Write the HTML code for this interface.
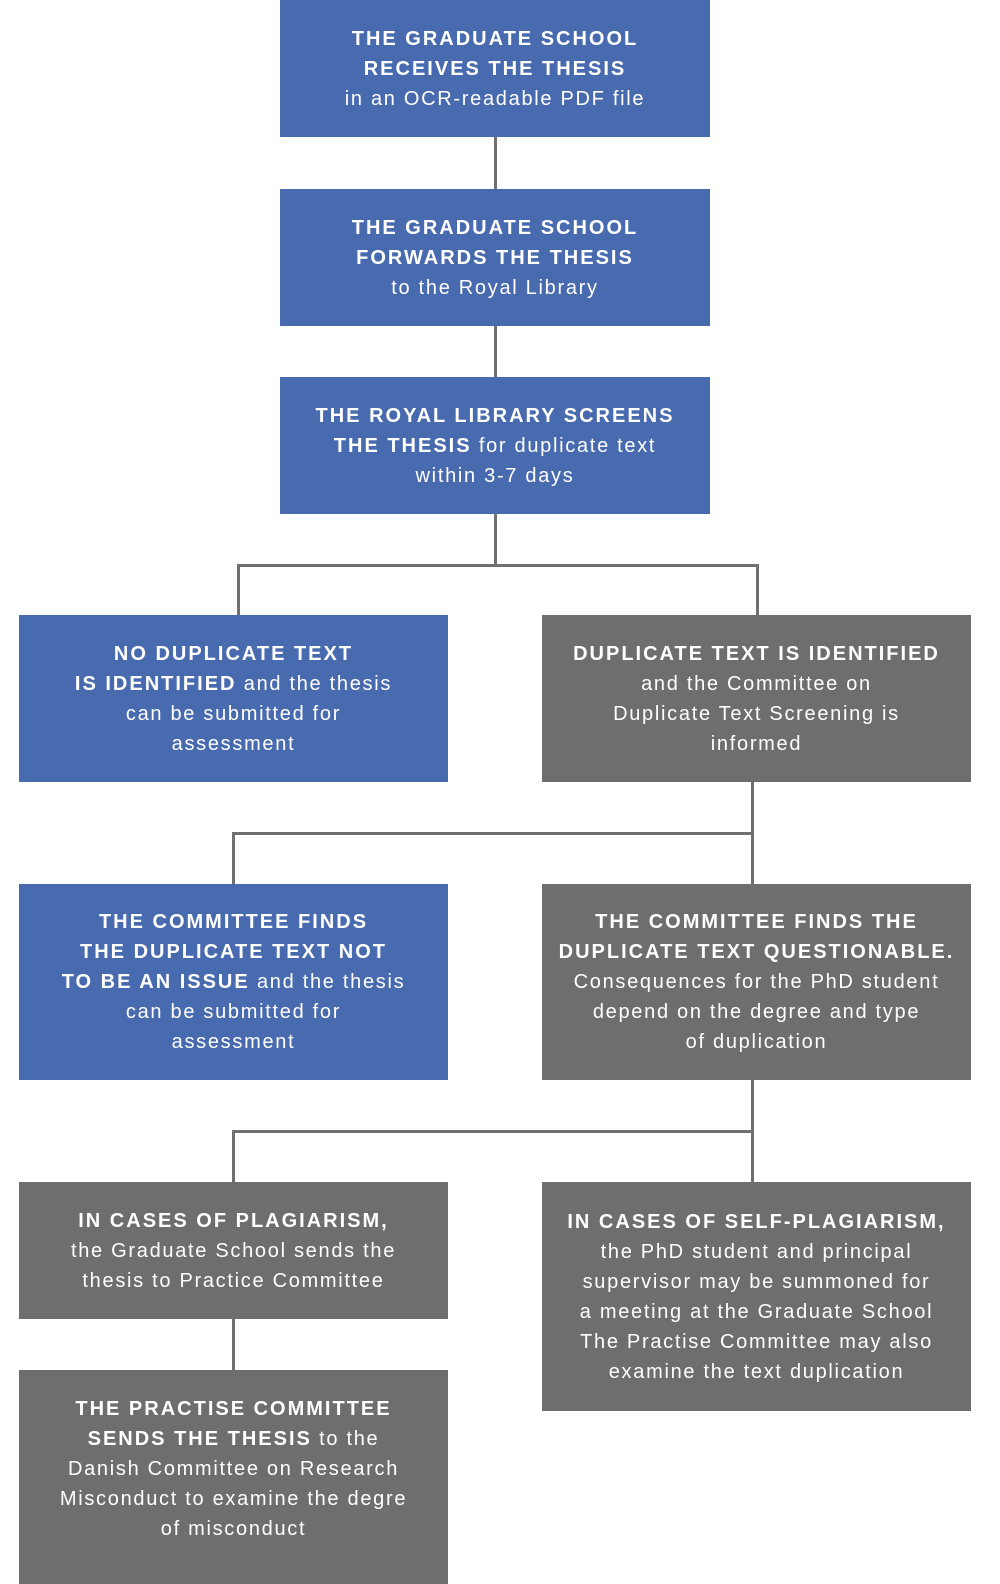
<!DOCTYPE html>
<html><head><style>
body{margin:0;width:1000px;height:1584px;background:#fff;position:relative;font-family:"Liberation Sans",sans-serif;overflow:hidden}
.b{position:absolute;display:flex;align-items:center;justify-content:center;text-align:center;color:#fff;font-size:20px;line-height:30px;letter-spacing:1.7px;box-sizing:border-box;padding:0 4px;white-space:nowrap}
.bl{background:#486aaf}.g{background:#6e6e70}
b{font-weight:bold;letter-spacing:2px}
.l{position:absolute;background:#707070}
</style></head><body>
<div class="l" style="left:494px;top:137px;width:3px;height:52px"></div>
<div class="l" style="left:494px;top:326px;width:3px;height:51px"></div>
<div class="l" style="left:494px;top:514px;width:3px;height:52px"></div>
<div class="l" style="left:237px;top:564px;width:522px;height:3px"></div>
<div class="l" style="left:237px;top:564px;width:3px;height:51px"></div>
<div class="l" style="left:756px;top:564px;width:3px;height:51px"></div>
<div class="l" style="left:751px;top:782px;width:3px;height:102px"></div>
<div class="l" style="left:232px;top:832px;width:522px;height:3px"></div>
<div class="l" style="left:232px;top:832px;width:3px;height:52px"></div>
<div class="l" style="left:751px;top:1080px;width:3px;height:102px"></div>
<div class="l" style="left:232px;top:1130px;width:522px;height:3px"></div>
<div class="l" style="left:232px;top:1130px;width:3px;height:52px"></div>
<div class="l" style="left:232px;top:1319px;width:3px;height:51px"></div>

<div class="b bl" style="left:280px;top:0;width:430px;height:137px"><div><b>THE GRADUATE SCHOOL<br>RECEIVES THE THESIS</b><br>in an OCR-readable PDF file</div></div>
<div class="b bl" style="left:280px;top:189px;width:430px;height:137px"><div><b>THE GRADUATE SCHOOL<br>FORWARDS THE THESIS</b><br>to the Royal Library</div></div>
<div class="b bl" style="left:280px;top:377px;width:430px;height:137px"><div><b>THE ROYAL LIBRARY SCREENS<br>THE THESIS</b> for duplicate text<br>within 3-7 days</div></div>
<div class="b bl" style="left:19px;top:615px;width:429px;height:167px"><div><b>NO DUPLICATE TEXT<br>IS IDENTIFIED</b> and the thesis<br>can be submitted for<br>assessment</div></div>
<div class="b g" style="left:542px;top:615px;width:429px;height:167px"><div><b>DUPLICATE TEXT IS IDENTIFIED</b><br>and the Committee on<br>Duplicate Text Screening is<br>informed</div></div>
<div class="b bl" style="left:19px;top:884px;width:429px;height:196px"><div><b>THE COMMITTEE FINDS<br>THE DUPLICATE TEXT NOT<br>TO BE AN ISSUE</b> and the thesis<br>can be submitted for<br>assessment</div></div>
<div class="b g" style="left:542px;top:884px;width:429px;height:196px"><div><b>THE COMMITTEE FINDS THE<br>DUPLICATE TEXT QUESTIONABLE.</b><br>Consequences for the PhD student<br>depend on the degree and type<br>of duplication</div></div>
<div class="b g" style="left:19px;top:1182px;width:429px;height:137px"><div><b>IN CASES OF PLAGIARISM,</b><br>the Graduate School sends the<br>thesis to Practice Committee</div></div>
<div class="b g" style="left:542px;top:1182px;width:429px;height:229px"><div><b>IN CASES OF SELF-PLAGIARISM,</b><br>the PhD student and principal<br>supervisor may be summoned for<br>a meeting at the Graduate School<br>The Practise Committee may also<br>examine the text duplication</div></div>
<div class="b g" style="left:19px;top:1370px;width:429px;height:214px;padding-bottom:16px"><div><b>THE PRACTISE COMMITTEE<br>SENDS THE THESIS</b> to the<br>Danish Committee on Research<br>Misconduct to examine the degre<br>of misconduct</div></div>
</body></html>
